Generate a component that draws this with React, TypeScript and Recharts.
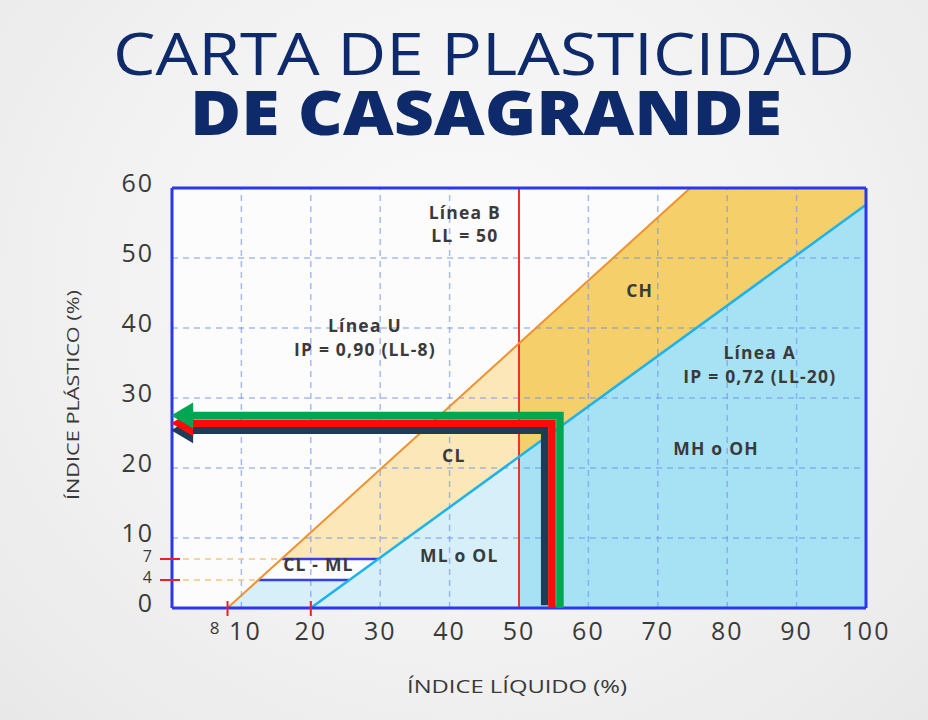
import React from "react";
import {
  ComposedChart,
  Area,
  Line,
  Scatter,
  XAxis,
  YAxis,
  CartesianGrid,
  ReferenceLine,
} from "recharts";

// axis ticks
const X_TICKS = [8, 10, 20, 30, 40, 50, 60, 70, 80, 90, 100];
const Y_TICKS = [0, 4, 7, 10, 20, 30, 40, 50, 60];
const GRID_X = [10, 20, 30, 40, 50, 60, 70, 80, 90];
const GRID_Y = [10, 20, 30, 40, 50];

// reference lines (LL, IP)
const U_LINE = [
  { x: 8, y: 0 },
  { x: 74.67, y: 60 },
];
const A_LINE = [
  { x: 20, y: 0 },
  { x: 100, y: 57.6 },
];

// zones, [low, high] of IP at each LL
const ZONE_ML_OL = [
  { x: 8, v: [0, 0] },
  { x: 12.44, v: [0, 4] },
  { x: 25.56, v: [0, 4] },
  { x: 50, v: [0, 21.6] },
];
const ZONE_MH_OH = [
  { x: 50, v: [0, 21.6] },
  { x: 100, v: [0, 57.6] },
];
const ZONE_CL_ML = [
  { x: 12.44, v: [4, 4] },
  { x: 15.78, v: [4, 7] },
  { x: 25.56, v: [4, 7] },
  { x: 29.72, v: [7, 7] },
];
const ZONE_CL = [
  { x: 15.78, v: [7, 7] },
  { x: 29.72, v: [7, 19.55] },
  { x: 50, v: [21.6, 37.8] },
];
const ZONE_CH = [
  { x: 50, v: [21.6, 37.8] },
  { x: 74.67, v: [39.36, 60] },
  { x: 100, v: [57.6, 60] },
];

// example path arrows
const ARROW_NAVY = [
  { x: 53.7, y: 0.4 },
  { x: 53.7, y: 25.4 },
  { x: 2.9, y: 25.4, head: true },
];
const ARROW_RED = [
  { x: 54.75, y: 0 },
  { x: 54.75, y: 26.4 },
  { x: 2.9, y: 26.4, head: true },
];
const ARROW_GREEN = [
  { x: 55.9, y: 0 },
  { x: 55.9, y: 27.5 },
  { x: 2.9, y: 27.5, head: true },
];

// zone labels
const LABELS = [
  { x: 42.2, y: 54.8, lines: ["Línea B", "LL = 50"] },
  { x: 27.8, y: 38.6, lines: ["Línea U", "IP = 0,90 (LL-8)"] },
  { x: 67.4, y: 45.3, lines: ["CH"] },
  { x: 84.7, y: 34.7, lines: ["Línea A", "IP = 0,72 (LL-20)"] },
  { x: 40.6, y: 21.7, lines: ["CL"] },
  { x: 78.4, y: 22.7, lines: ["MH o OH"] },
  { x: 41.4, y: 7.4, lines: ["ML o OL"] },
  { x: 21.1, y: 6.1, lines: ["CL - ML"] },
];

const FONT = "'Open Sans', 'Noto Sans', sans-serif";
const TEXT = "#3a3a3a";
const BORDER = "#2b36f2";

function XTick({ x, y, payload }: any) {
  const v = payload.value;
  const mark = v === 8 || v === 20;
  return (
    <g>
      {mark && <line x1={x} x2={x} y1={y - 7} y2={y + 8} stroke="#e8202a" strokeWidth={2} />}
      {v === 8 ? (
        <text x={x - 13} y={y + 26} textAnchor="middle" fontSize={17} fill={TEXT} fontFamily={FONT}>
          8
        </text>
      ) : (
        <text x={x + (v === 10 ? 4 : 0)} y={y + 32} textAnchor="middle" fontSize={25} fontWeight={500} fill={TEXT} fontFamily={FONT} letterSpacing={2}>
          {v}
        </text>
      )}
    </g>
  );
}

function YTick({ x, y, payload }: any) {
  const v = payload.value;
  if (v === 4 || v === 7) {
    return (
      <g>
        <line x1={x - 12} x2={x + 8} y1={y} y2={y} stroke="#e8202a" strokeWidth={2} />
        <text x={x - 20} y={y + 3} textAnchor="end" fontSize={16} fill={TEXT} fontFamily={FONT}>
          {v}
        </text>
      </g>
    );
  }
  return (
    <text x={x - 18} y={y + 4} textAnchor="end" fontSize={25} fontWeight={500} fill={TEXT} fontFamily={FONT} letterSpacing={2}>
      {v}
    </text>
  );
}

function makeHead(color: string) {
  return (props: any) => {
    const { cx, cy, payload } = props;
    if (!payload.head) return <g />;
    return (
      <polygon
        points={`${cx - 21},${cy} ${cx + 1},${cy - 13} ${cx + 1},${cy + 13}`}
        fill={color}
      />
    );
  };
}

function LabelShape(props: any) {
  const { cx, cy, payload } = props;
  const lines: string[] = payload.lines;
  const lh = 23.5;
  const top = cy - ((lines.length - 1) * lh) / 2;
  return (
    <text textAnchor="middle" fontSize={17.5} fontWeight={700} fill={TEXT} fontFamily={FONT} letterSpacing={1.2}>
      {lines.map((l, i) => (
        <tspan key={i} x={cx} y={top + i * lh + 6}>
          {l}
        </tspan>
      ))}
    </text>
  );
}

const arrowLine = (color: string) => ({
  stroke: color,
  strokeWidth: 7.5,
  strokeLinejoin: "miter" as const,
  strokeLinecap: "butt" as const,
});

export default function App() {
  return (
    <div
      style={{
        position: "absolute",
        left: 0,
        top: 0,
        width: 928,
        height: 720,
        background: "radial-gradient(ellipse at 50% 40%, #fafafa 0%, #f1f1f1 60%, #e8e8e8 100%)",
        overflow: "hidden",
      }}
    >
      <svg width={928} height={720} style={{ position: "absolute", left: 0, top: 0 }}>
        <text
          x={113}
          y={75}
          fontSize={58}
          fill="#0e2a6b"
          fontFamily={FONT}
          textLength={742}
          lengthAdjust="spacingAndGlyphs"
        >
          CARTA DE PLASTICIDAD
        </text>
        <text
          x={190}
          y={135}
          fontSize={62}
          fontWeight={800}
          fill="#0e2a6b"
          fontFamily={FONT}
          textLength={592}
          lengthAdjust="spacingAndGlyphs"
        >
          DE CASAGRANDE
        </text>
        <text
          x={517}
          y={693}
          textAnchor="middle"
          fontSize={18}
          fill={TEXT}
          fontFamily={FONT}
          textLength={220}
          lengthAdjust="spacingAndGlyphs"
        >
          ÍNDICE LÍQUIDO (%)
        </text>
        <text
          transform="translate(79 395) rotate(-90)"
          textAnchor="middle"
          fontSize={17}
          fill={TEXT}
          fontFamily={FONT}
          textLength={210}
          lengthAdjust="spacingAndGlyphs"
        >
          ÍNDICE PLÁSTICO (%)
        </text>
      </svg>
      <div style={{ position: "absolute", left: 0, top: 0 }}>
        <ComposedChart width={928} height={720} margin={{ top: 188, right: 62, bottom: 52, left: 0 }}>
          <CartesianGrid fill="#fcfcfc" horizontal={false} vertical={false} />
          <XAxis
            type="number"
            dataKey="x"
            domain={[0, 100]}
            ticks={X_TICKS}
            interval={0}
            tick={<XTick />}
            tickLine={false}
            tickSize={0}
            tickMargin={0}
            axisLine={false}
            height={60}
            allowDataOverflow
          />
          <YAxis
            type="number"
            domain={[0, 60]}
            ticks={Y_TICKS}
            interval={0}
            tick={<YTick />}
            tickLine={false}
            tickSize={0}
            tickMargin={0}
            axisLine={false}
            width={172}
            allowDataOverflow
          />

          <Area data={ZONE_ML_OL} dataKey="v" type="linear" fill="#d6eff8" fillOpacity={1} stroke="none" isAnimationActive={false} />
          <Area data={ZONE_MH_OH} dataKey="v" type="linear" fill="#a7e2f4" fillOpacity={1} stroke="none" isAnimationActive={false} />
          <Area data={ZONE_CL_ML} dataKey="v" type="linear" fill="#fdfdfd" fillOpacity={1} stroke="none" isAnimationActive={false} />
          <Area data={ZONE_CL} dataKey="v" type="linear" fill="#fbe7b7" fillOpacity={1} stroke="none" isAnimationActive={false} />
          <Area data={ZONE_CH} dataKey="v" type="linear" fill="#f5cf69" fillOpacity={1} stroke="none" isAnimationActive={false} />

          {GRID_X.map((g) => (
            <ReferenceLine key={`gx${g}`} x={g} stroke="#6f8ff0" strokeOpacity={0.6} strokeDasharray="6 5" strokeWidth={1.5} />
          ))}
          {GRID_Y.map((g) => (
            <ReferenceLine key={`gy${g}`} y={g} stroke="#6f8ff0" strokeOpacity={0.6} strokeDasharray="6 5" strokeWidth={1.5} />
          ))}

          <ReferenceLine segment={[{ x: 0, y: 7 }, { x: 15.78, y: 7 }]} stroke="#f2c97a" strokeDasharray="6 5" strokeWidth={1.5} />
          <ReferenceLine segment={[{ x: 0, y: 4 }, { x: 12.44, y: 4 }]} stroke="#f2c97a" strokeDasharray="6 5" strokeWidth={1.5} />
          <ReferenceLine segment={[{ x: 15.78, y: 7 }, { x: 29.72, y: 7 }]} stroke="#3440ee" strokeWidth={2.5} />
          <ReferenceLine segment={[{ x: 12.44, y: 4 }, { x: 25.56, y: 4 }]} stroke="#3440ee" strokeWidth={2.5} />
          <ReferenceLine x={50} stroke="#f0302a" strokeWidth={2} />

          <Line data={U_LINE} dataKey="y" type="linear" stroke="#ef922f" strokeWidth={2} dot={false} isAnimationActive={false} />
          <Line data={A_LINE} dataKey="y" type="linear" stroke="#1cb2ef" strokeWidth={2.5} dot={false} isAnimationActive={false} />

          <ReferenceLine y={0} stroke={BORDER} strokeWidth={3} />
          <ReferenceLine y={60} stroke={BORDER} strokeWidth={3} />
          <ReferenceLine x={0} stroke={BORDER} strokeWidth={3} />
          <ReferenceLine x={100} stroke={BORDER} strokeWidth={3} />

          <Scatter data={ARROW_NAVY} dataKey="y" line={arrowLine("#1f3b57")} lineType="joint" shape={makeHead("#1f3b57")} isAnimationActive={false} />
          <Scatter data={ARROW_RED} dataKey="y" line={arrowLine("#ff0a0a")} lineType="joint" shape={makeHead("#ff0a0a")} isAnimationActive={false} />
          <Scatter data={ARROW_GREEN} dataKey="y" line={arrowLine("#00a651")} lineType="joint" shape={makeHead("#00a651")} isAnimationActive={false} />

          <Scatter data={LABELS} dataKey="y" shape={LabelShape} isAnimationActive={false} />
        </ComposedChart>
      </div>
    </div>
  );
}
